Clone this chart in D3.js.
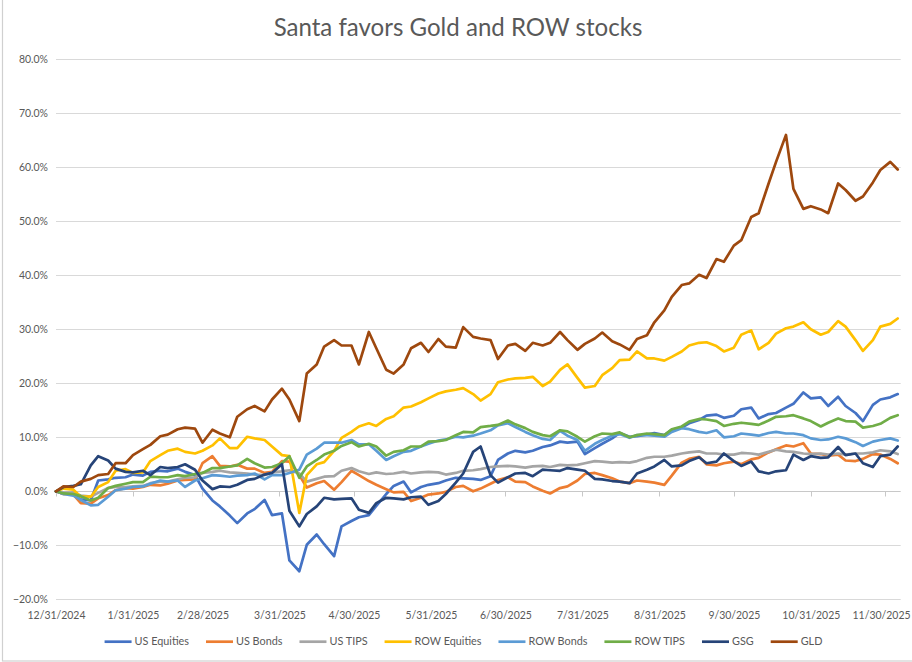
<!DOCTYPE html>
<html><head><meta charset="utf-8">
<script src="https://cdn.jsdelivr.net/npm/d3@7"></script>
<style>html,body{margin:0;padding:0;background:#fff;overflow:hidden}</style>
</head><body><svg id="chart" width="912" height="662"></svg>
<script>
const title = "Santa favors Gold and ROW stocks";
const dates = [
 "2024-12-31","2025-01-03","2025-01-07","2025-01-10","2025-01-14","2025-01-17","2025-01-21","2025-01-24","2025-01-28","2025-01-31",
 "2025-02-04","2025-02-07","2025-02-11","2025-02-14","2025-02-18","2025-02-21","2025-02-25","2025-02-28",
 "2025-03-04","2025-03-07","2025-03-11","2025-03-14","2025-03-18","2025-03-21","2025-03-25","2025-03-28",
 "2025-04-01","2025-04-04","2025-04-08","2025-04-11","2025-04-15","2025-04-18","2025-04-22","2025-04-25","2025-04-29",
 "2025-05-02","2025-05-06","2025-05-09","2025-05-13","2025-05-16","2025-05-20","2025-05-23","2025-05-27","2025-05-30",
 "2025-06-03","2025-06-06","2025-06-10","2025-06-13","2025-06-17","2025-06-20","2025-06-24","2025-06-27",
 "2025-07-01","2025-07-04","2025-07-08","2025-07-11","2025-07-15","2025-07-18","2025-07-22","2025-07-25","2025-07-29",
 "2025-08-01","2025-08-05","2025-08-08","2025-08-12","2025-08-15","2025-08-19","2025-08-22","2025-08-26","2025-08-29",
 "2025-09-02","2025-09-05","2025-09-09","2025-09-12","2025-09-16","2025-09-19","2025-09-23","2025-09-26","2025-09-30",
 "2025-10-03","2025-10-07","2025-10-10","2025-10-14","2025-10-17","2025-10-21","2025-10-24","2025-10-28","2025-10-31",
 "2025-11-04","2025-11-07","2025-11-11","2025-11-14","2025-11-18","2025-11-21","2025-11-25","2025-11-28",
 "2025-12-02","2025-12-05"
];
// cumulative returns, percent
const usEquities = [
 0,-0.5,-0.3,-1.5,-1.7,2.0,2.2,2.5,2.6,3.1,
 2.9,3.6,3.8,3.7,4.2,3.6,3.0,0.5,
 -1.7,-2.8,-4.5,-5.9,-4.1,-3.3,-1.6,-4.4,
 -4.1,-12.8,-14.8,-9.9,-8.0,-9.8,-12.0,-6.5,-5.5,
 -4.8,-4.4,-2.7,-0.5,1.0,1.8,-0.2,0.8,1.2,
 1.5,2.0,2.5,2.4,2.3,2.1,2.8,5.8,
 7.0,7.5,7.2,7.5,8.2,8.5,9.2,9.0,9.2,
 6.9,8.0,8.8,9.8,10.8,10.1,10.2,10.5,10.8,
 10.4,11.4,11.8,12.6,13.2,14.0,14.2,13.6,14.0,
 15.2,15.5,13.5,14.3,14.5,15.5,16.2,18.3,17.2,
 17.4,15.8,17.5,15.8,14.5,13.0,16.0,17.0,
 17.4,18.0
];
const usBonds = [
 0,-0.5,-0.6,-2.2,-2.3,-1.3,-0.7,0.2,0.6,0.5,
 0.8,1.2,1.1,1.4,2.0,2.1,2.2,5.2,
 6.5,4.7,4.6,4.9,4.2,4.2,3.4,3.6,
 5.6,5.5,3.0,0.7,1.5,1.9,0.3,1.7,3.8,
 3.0,1.9,1.2,0.4,-0.2,-0.1,-1.8,-1.2,-0.6,
 -0.4,-0.1,0.8,1.0,0.0,0.5,1.4,2.1,
 2.6,1.8,1.7,0.9,0.1,-0.4,0.6,0.9,2.0,
 3.2,3.4,3.0,2.4,1.8,1.5,2.0,1.8,1.6,
 1.2,2.9,5.3,6.0,6.4,5.0,4.8,5.2,5.5,
 5.0,5.9,6.2,7.2,7.8,8.5,8.3,8.9,7.0,
 6.9,6.6,6.8,5.7,5.6,6.0,6.9,6.8,
 6.0,5.2
];
const usTips = [
 0,-0.2,-0.3,-0.8,-1.0,-0.3,0.6,0.8,0.8,0.9,
 1.0,1.5,1.8,1.8,2.2,2.5,2.6,3.4,
 3.6,3.8,3.5,3.4,3.3,3.1,3.0,3.5,
 3.7,3.9,3.3,1.8,2.3,2.7,2.8,3.8,4.3,
 3.7,3.2,3.5,3.2,3.3,3.6,3.3,3.5,3.6,
 3.5,3.1,3.4,3.8,3.9,4.1,4.5,4.6,
 4.7,4.6,4.4,4.6,4.7,4.5,4.9,4.8,4.9,
 5.2,5.6,5.5,5.3,5.4,5.3,5.6,6.2,6.4,
 6.4,6.6,7.0,7.2,7.4,7.0,7.0,6.8,6.8,
 7.1,7.0,6.8,7.3,7.7,7.4,7.3,7.0,6.9,
 7.0,6.8,7.0,6.8,7.0,7.0,7.2,7.6,
 7.4,6.9
];
const rowEquities = [
 0,0.5,0.3,-1.0,-1.0,0.8,1.7,3.8,4.1,3.4,
 3.5,5.6,6.7,7.5,7.9,7.3,7.0,7.5,
 8.5,9.8,8.0,8.0,10.1,9.8,9.5,8.3,
 6.7,6.5,-4.0,3.0,5.0,5.4,7.5,9.9,11.0,
 12.0,12.6,12.1,13.4,13.9,15.5,15.7,16.5,17.2,
 18.1,18.5,18.8,19.1,18.0,16.8,18.0,20.2,
 20.7,20.9,21.0,21.2,19.5,20.3,22.5,23.5,21.0,
 19.2,19.5,21.5,22.8,24.3,24.4,25.9,24.6,24.6,
 24.2,24.9,25.9,27.0,27.5,27.6,26.9,25.9,26.6,
 29.0,29.8,26.3,27.5,29.2,30.2,30.5,31.3,30.0,
 29.0,29.5,31.5,30.5,28.0,26.0,28.0,30.5,
 31.0,32.0
];
const rowBonds = [
 0,-0.5,-0.8,-1.6,-2.6,-2.5,-1.0,0.2,0.5,0.8,
 0.9,1.4,2.0,1.8,2.0,0.8,2.0,2.4,
 3.0,2.9,2.7,2.9,3.0,3.3,2.2,3.0,
 3.0,3.4,4.0,6.8,7.9,9.0,9.0,9.0,9.5,
 8.7,8.7,7.5,5.8,6.5,7.3,7.5,8.3,8.8,
 9.4,9.6,10.1,10.0,10.3,10.7,11.3,12.2,
 12.6,11.9,11.0,10.4,9.7,9.5,11.2,10.3,9.5,
 7.5,8.8,9.5,10.3,10.6,9.9,10.4,10.4,10.3,
 10.1,11.0,11.7,11.5,11.0,10.8,11.3,10.0,10.2,
 10.7,10.5,10.3,10.8,11.0,10.7,10.7,10.4,9.8,
 9.5,9.6,10.1,9.8,9.1,8.4,9.2,9.5,
 9.8,9.4
];
const rowTips = [
 0,-0.4,-0.5,-0.9,-1.7,-1.2,0.6,1.0,1.4,1.7,
 1.7,2.7,2.6,2.6,3.0,2.8,3.2,3.4,
 4.3,4.3,4.6,4.8,6.0,5.2,4.4,4.5,
 5.2,6.5,2.5,4.6,5.8,6.8,7.5,8.4,9.1,
 8.3,8.8,8.3,6.6,7.3,7.6,8.3,8.3,9.2,
 9.3,9.5,10.4,11.0,10.9,11.9,12.1,12.3,
 13.1,12.4,11.7,11.0,10.4,10.2,11.3,11.1,10.1,
 9.2,10.2,10.7,10.6,10.9,10.0,10.4,10.7,10.6,
 10.4,11.5,12.0,12.9,13.4,13.3,13.0,12.1,12.5,
 12.7,12.5,12.3,13.1,13.8,13.9,14.1,13.5,13.0,
 12.0,12.7,13.5,13.0,12.9,11.8,12.1,12.5,
 13.6,14.1
];
const gsg = [
 0,0.8,1.0,1.3,4.8,6.5,5.7,4.2,3.6,3.5,
 3.8,3.0,4.5,4.3,4.5,5.0,4.0,2.0,
 0.4,0.9,0.8,1.2,2.1,2.3,3.1,3.4,
 5.0,-3.6,-6.5,-4.2,-2.8,-1.2,-1.5,-1.4,-1.3,
 -3.4,-4.0,-2.2,-1.2,-1.3,-1.5,-1.1,-1.0,-2.5,
 -1.8,-0.5,1.6,3.3,7.3,8.3,3.0,1.6,
 2.6,3.3,3.4,2.8,4.0,3.9,3.8,4.3,4.0,
 3.8,2.3,2.2,1.9,1.8,1.5,3.3,4.0,4.6,
 5.8,4.6,4.8,5.6,6.3,5.2,5.5,7.0,5.6,
 4.7,5.5,3.7,3.3,3.7,3.9,6.8,5.8,6.5,
 6.2,6.3,8.2,6.7,7.0,5.2,4.5,6.5,
 6.8,8.3
];
const gld = [
 0,0.9,0.8,1.8,2.3,3.0,3.2,5.2,5.2,6.7,
 7.8,8.6,10.2,10.5,11.5,11.8,11.6,9.0,
 11.4,10.7,10.0,13.8,15.2,15.8,14.8,17.0,
 19.0,17.0,13.0,21.8,23.5,26.8,28.0,27.0,27.0,
 23.5,29.5,26.5,22.5,21.8,23.5,26.5,27.5,25.8,
 28.2,26.8,26.6,30.4,28.6,28.3,28.0,24.5,
 27.0,27.3,26.0,27.5,27.0,27.5,29.5,28.0,26.2,
 27.3,28.3,29.4,27.8,27.2,26.2,28.2,28.9,31.3,
 33.5,36.0,38.2,38.5,40.1,39.5,43.0,42.5,45.5,
 46.5,50.8,51.5,57.0,61.0,66.0,56.0,52.3,52.8,
 52.2,51.5,57.0,55.8,53.8,54.6,57.2,59.5,
 61.0,59.6
];
const seriesNames = ["US Equities","US Bonds","US TIPS","ROW Equities","ROW Bonds","ROW TIPS","GSG","GLD"];
const seriesValues = [usEquities, usBonds, usTips, rowEquities, rowBonds, rowTips, gsg, gld];
const seriesColors = ["#4472C4","#ED7D31","#A5A5A5","#FFC000","#5B9BD5","#70AD47","#264478","#9E480E"];
const xTickDates = ["2024-12-31","2025-01-31","2025-02-28","2025-03-31","2025-04-30","2025-05-31","2025-06-30","2025-07-31","2025-08-31","2025-09-30","2025-10-31","2025-11-30"];
const yTickValues = [-0.2,-0.1,0,0.1,0.2,0.3,0.4,0.5,0.6,0.7,0.8];
const xDomain = ["2024-12-31","2025-12-06"];

const FONT = "Lato, 'Open Sans', 'DejaVu Sans', sans-serif";
const TEXT = "#595959";
const parse = d3.utcParse("%Y-%m-%d");
const fmt = d3.utcFormat("%-m/%-d/%Y");
const svg = d3.select("#chart");
svg.append("rect").attr("width",912).attr("height",662).attr("fill","#fff");
svg.append("rect").attr("x",2.5).attr("y",-3).attr("width",930).attr("height",664)
  .attr("fill","none").attr("stroke","#D0D0D0").attr("stroke-width",1.2);

const plot = {left:56, right:900.2, top:59.3, bottom:599.3};
const x = d3.scaleUtc().domain(xDomain.map(parse)).range([plot.left, plot.right]);
const y = d3.scaleLinear().domain([-0.2,0.8]).range([plot.bottom, plot.top]);

function fitSize(text, target, base){
  const t = svg.append("text").attr("font-family",FONT).attr("font-size",base).text(text);
  const w = t.node().getComputedTextLength(); t.remove();
  return base*target/w;
}
const titleSize = fitSize(title, 369, 24);
const tickSize = fitSize("12/31/2024", 58, 12);
const legendSize = fitSize("ROW Equities", 67, 12);

// title
svg.append("text").attr("x",458).attr("y",36).attr("text-anchor","middle")
  .attr("font-family",FONT).attr("font-size",titleSize).attr("fill",TEXT).text(title);

// gridlines
const gx = plot.right + 0.5;
svg.append("g").selectAll("line").data(yTickValues).join("line")
  .attr("x1",plot.left).attr("x2",gx)
  .attr("y1",d=>Math.round(y(d))+0.5).attr("y2",d=>Math.round(y(d))+0.5)
  .attr("stroke",d=>d===0?"#C8C8C8":"#D9D9D9").attr("stroke-width",1);

// y labels
const yAxis = d3.axisLeft(y).tickValues(yTickValues).tickFormat(d3.format(".1%")).tickSize(0).tickPadding(0);
const ya = svg.append("g").attr("transform",`translate(${plot.left-8},0)`).call(yAxis);
ya.select(".domain").remove();
ya.selectAll("text").attr("font-family",FONT).attr("font-size",tickSize).attr("fill",TEXT).attr("dy","0.34em");

// x ticks on zero line
const zeroY = Math.round(y(0))+0.5;
svg.append("g").selectAll("line").data(xTickDates).join("line")
  .attr("x1",d=>Math.round(x(parse(d)))+0.5).attr("x2",d=>Math.round(x(parse(d)))+0.5)
  .attr("y1",zeroY).attr("y2",zeroY+5).attr("stroke","#C8C8C8");

// x labels (low position)
const xAxis = d3.axisBottom(x).tickValues(xTickDates.map(parse)).tickFormat(fmt).tickSize(0).tickPadding(0);
const xa = svg.append("g").attr("transform",`translate(0,${615})`).call(xAxis);
xa.select(".domain").remove();
xa.selectAll("text").attr("font-family",FONT).attr("font-size",tickSize).attr("fill",TEXT).attr("dy","0.34em");
// keep the last label inside the page
xa.selectAll(".tick").each(function(){
  const t = d3.select(this).select("text");
  const w = t.node().getComputedTextLength();
  const cxp = x(d3.select(this).datum());
  if (cxp + w/2 > 910) t.attr("x", 910 - w/2 - cxp);
});

// lines
const parsedDates = dates.map(parse);
const line = d3.line().x((d,i)=>x(parsedDates[i])).y(d=>y(d/100));
svg.append("g").selectAll("path").data(seriesValues).join("path")
  .attr("d",d=>line(d)).attr("fill","none")
  .attr("stroke",(d,i)=>seriesColors[i]).attr("stroke-width",2.7)
  .attr("stroke-linejoin","round").attr("stroke-linecap","round");

// legend
const leg = svg.append("g");
const items = leg.selectAll("g").data(seriesNames).join("g");
items.append("line").attr("x1",0).attr("x2",27).attr("y1",0).attr("y2",0)
  .attr("stroke",(d,i)=>seriesColors[i]).attr("stroke-width",2.7);
items.append("text").attr("x",30).attr("y",0).attr("dy","0.34em")
  .attr("font-family",FONT).attr("font-size",legendSize).attr("fill",TEXT).text(d=>d);
let cx = 0; const offs = [];
items.each(function(){ offs.push(cx); const w = d3.select(this).select("text").node().getComputedTextLength(); cx += 30 + w + 17; });
const total = cx - 17;
const startX = 463.5 - total/2;
items.attr("transform",(d,i)=>`translate(${startX+offs[i]},641.7)`);
</script></body></html>
